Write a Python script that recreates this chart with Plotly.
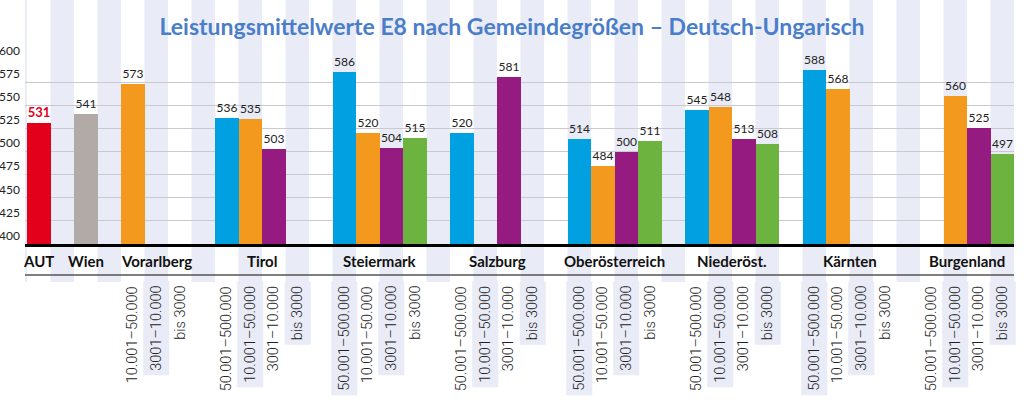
import plotly.graph_objects as go

# ---------------- data ----------------
title_text = "Leistungsmittelwerte E8 nach Gemeindegrößen – Deutsch-Ungarisch"
groups = ["Vorarlberg", "Tirol", "Steiermark", "Salzburg",
          "Oberösterreich", "Niederöst.", "Kärnten", "Burgenland"]
size_classes = ["50.001–500.000", "10.001–50.000", "3001–10.000", "bis 3000"]

aut_label, aut_value = "AUT", 531
wien_label, wien_value = "Wien", 541

val_50k_500k = [None, 536, 586, 520, 514, 545, 588, None]
val_10k_50k = [573, 535, 520, None, 484, 548, 568, 560]
val_3k_10k = [None, 503, 504, 581, 500, 513, None, 525]
val_bis_3k = [None, None, 515, None, 511, 508, None, 497]

# which size classes are listed under each group (Vorarlberg has no 50.001–500.000 class)
classes_shown = [[1, 2, 3]] + [[0, 1, 2, 3]] * 7

y_ticks = [400, 425, 450, 475, 500, 525, 550, 575, 600]

# ---------------- styling ----------------
series_colors = ["#00A0E1", "#F39A1E", "#951B81", "#6DB33F"]
aut_color = "#E2001A"
wien_color = "#B2AAA7"
stripe_color = "#E9ECF7"
title_color = "#4A7EC9"

# slot layout: AUT slot 1, Wien slot 3, group i / class c at slot 4 + 5*i + c
def slot(i, c):
    return 4 + 5 * i + c

# pixel geometry helpers (plot area: y 59..244 px, height 185)
PLOT_TOP, PLOT_BOTTOM = 59, 244
PH = PLOT_BOTTOM - PLOT_TOP
def py(p):
    return (PLOT_BOTTOM - p) / PH

fig = go.Figure()

fig.add_trace(go.Bar(x=[1], y=[aut_value], width=1, marker_color=aut_color,
                     marker_line_width=0,
                     text=[aut_value], textposition="outside",
                     textfont=dict(color=aut_color, size=13, family="Lato", weight="bold"),
                     cliponaxis=False, showlegend=False))
fig.add_trace(go.Bar(x=[3], y=[wien_value], width=1, marker_color=wien_color,
                     marker_line_width=0,
                     text=[wien_value], textposition="outside",
                     textfont=dict(color="#222222", size=12, family="Lato"),
                     cliponaxis=False, showlegend=False))

for c, vals in enumerate([val_50k_500k, val_10k_50k, val_3k_10k, val_bis_3k]):
    xs, ys = [], []
    for i, v in enumerate(vals):
        if v is not None:
            xs.append(slot(i, c))
            ys.append(v)
    fig.add_trace(go.Bar(x=xs, y=ys, width=1, marker_color=series_colors[c],
                         marker_line_width=0,
                         text=ys, textposition="outside",
                         textfont=dict(color="#222222", size=12, family="Lato"),
                         cliponaxis=False, name=size_classes[c], showlegend=False))

shapes = []
# background stripes on even slots
for k in range(0, 44, 2):
    shapes.append(dict(type="rect", xref="x", yref="paper",
                       x0=k - 0.5, x1=k + 0.5, y0=py(282), y1=py(0),
                       fillcolor=stripe_color, line_width=0, layer="below"))
# thin grey line under category row
shapes.append(dict(type="line", xref="paper", yref="paper", x0=0, x1=1,
                   y0=py(275), y1=py(275), line=dict(color="#555555", width=1.3)))

annotations = []
cat_font = dict(family="Lato", size=15, color="#111111", weight="bold")
annotations.append(dict(x=1, y=py(261), xref="x", yref="paper", text=aut_label,
                        showarrow=False, font=cat_font, yanchor="middle"))
annotations.append(dict(x=3, y=py(261), xref="x", yref="paper", text=wien_label,
                        showarrow=False, font=cat_font, yanchor="middle"))
sub_font = dict(family="Roboto", size=14.5, color="#222222", weight=300)
for i, g in enumerate(groups):
    shown = classes_shown[i]
    center = (slot(i, shown[0]) + slot(i, shown[-1])) / 2
    annotations.append(dict(x=center, y=py(261), xref="x", yref="paper", text=g,
                            showarrow=False, font=cat_font, yanchor="middle"))
    for c in shown:
        s = slot(i, c)
        ann = dict(x=s, y=py(281), xref="x", yref="paper", text=size_classes[c],
                   showarrow=False, font=sub_font, textangle=-90,
                   xanchor="center", yanchor="top", borderpad=4)
        if s % 2 == 0:
            ann["bgcolor"] = stripe_color
        annotations.append(ann)

fig.update_layout(
    width=1024, height=411,
    margin=dict(l=25, r=10, t=PLOT_TOP, b=411 - PLOT_BOTTOM),
    paper_bgcolor="white", plot_bgcolor="rgba(0,0,0,0)",
    barmode="overlay", bargap=0,
    title=dict(text=title_text, x=0.5, xanchor="center", y=1 - 27 / 411, yanchor="middle",
               font=dict(family="Lato", size=23, color=title_color, weight="bold")),
    xaxis=dict(range=[0.415, 42.5], showticklabels=False, showgrid=False, zeroline=False,
               showline=True, linecolor="#000000", linewidth=3, ticks="", automargin=False),
    yaxis=dict(range=[400, 600], tickvals=y_ticks, showgrid=True, gridcolor="#C9C9CF",
               gridwidth=1, zeroline=False, showline=False, ticks="", automargin=False,
               ticklabelposition="outside top", ticklabelstandoff=4,
               tickfont=dict(family="Lato", size=12, color="#222222")),
    shapes=shapes, annotations=annotations,
    showlegend=False,
)

fig.write_html("out.html",
               config={"displayModeBar": False},
               post_script="document.body.style.margin='0';document.body.style.overflow='hidden';")
